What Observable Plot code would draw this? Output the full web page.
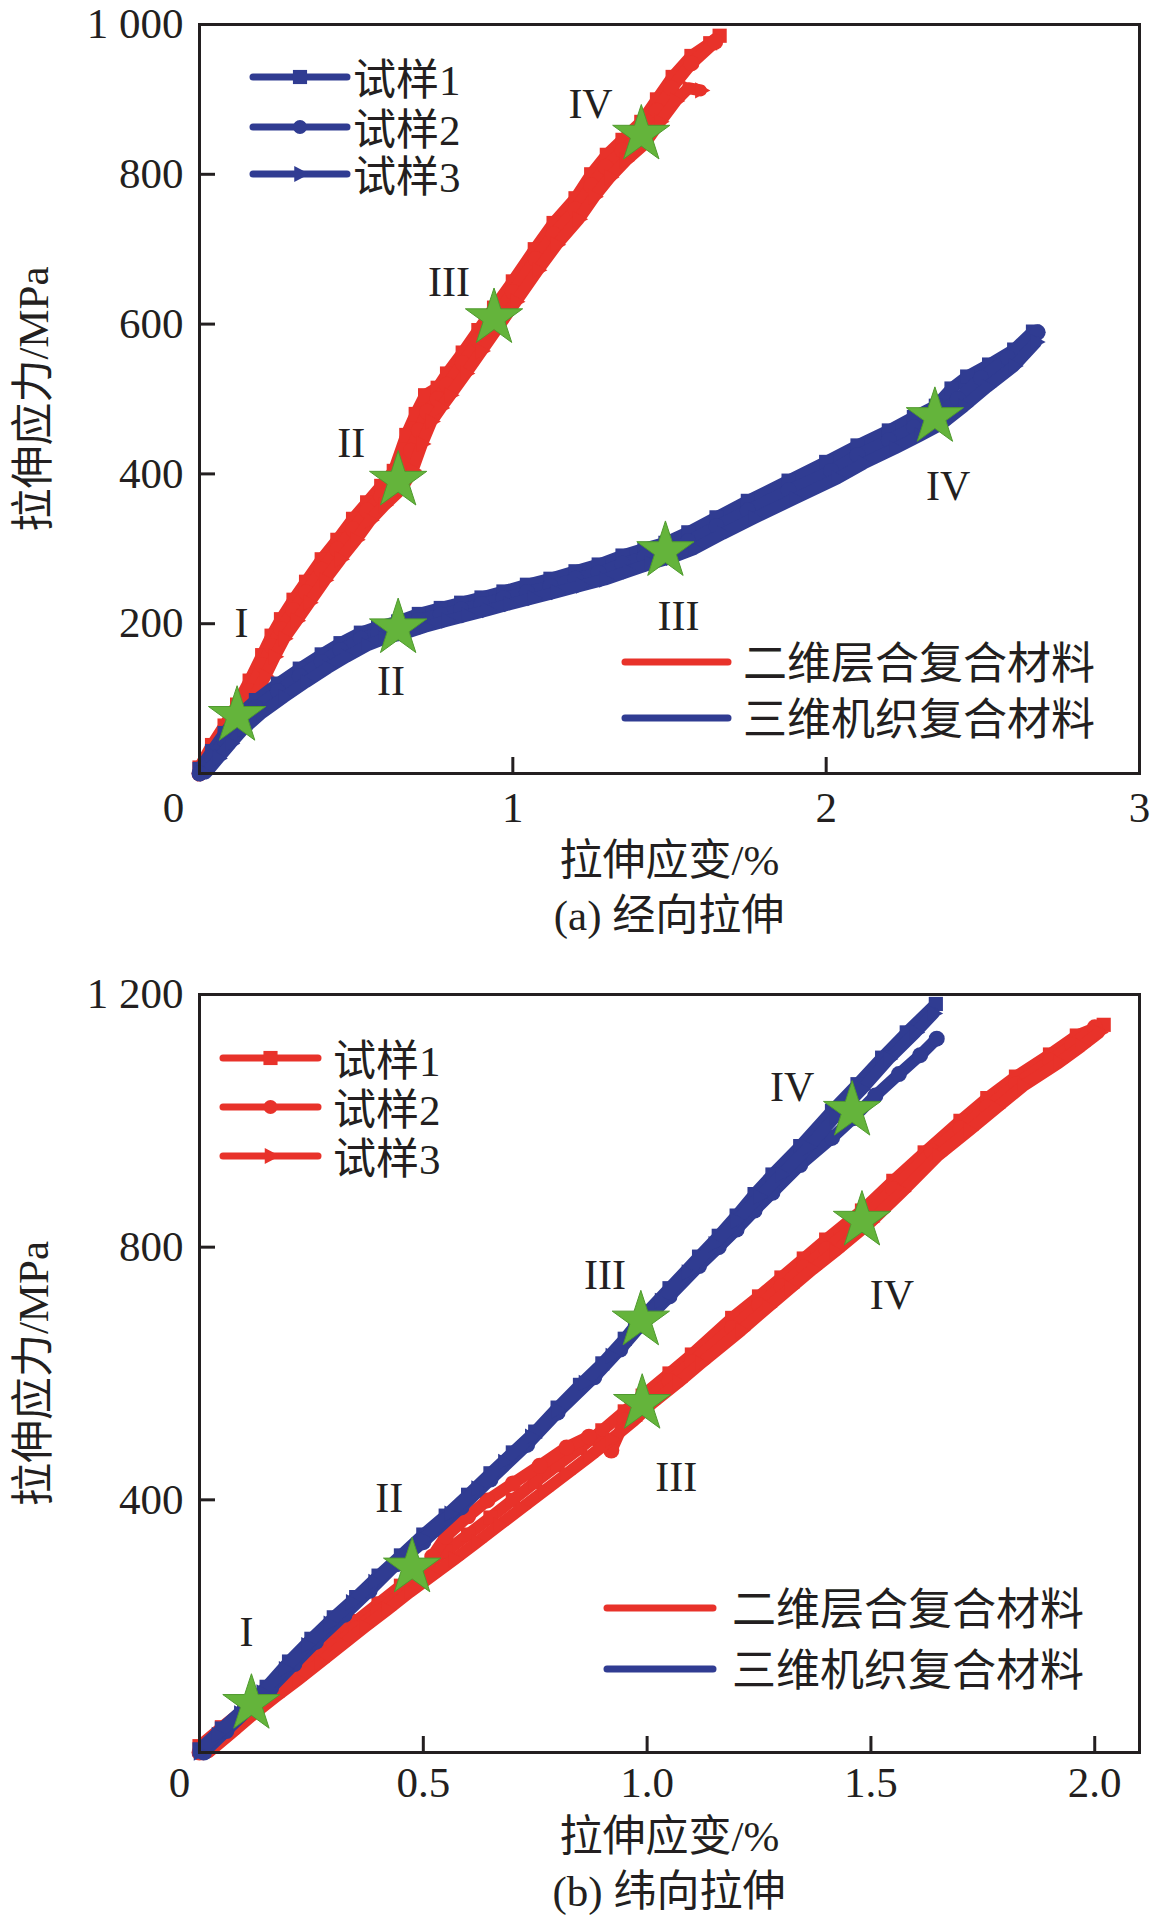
<!DOCTYPE html>
<html><head><meta charset="utf-8">
<script src="https://cdn.jsdelivr.net/npm/d3@7"></script>
<script src="https://cdn.jsdelivr.net/npm/@observablehq/plot@0.6"></script>
<style>
body{margin:0;background:#fff;}
#wrap{position:relative;width:1152px;height:1920px;font-family:"Liberation Serif","Noto Sans CJK SC",serif;color:#231f20;}
.panel{position:absolute;left:0;}
.cap{position:absolute;left:199px;width:940px;text-align:center;font-size:43px;line-height:50px;}
</style></head><body><div id="wrap"></div><script>
// ---------------- DATA ----------------
const yLabel = "拉伸应力/MPa";
const xLabel = "拉伸应变/%";
const captions = ["(a) 经向拉伸", "(b) 纬向拉伸"];
const specimenNames = ["试样1", "试样2", "试样3"];
const materialNames = ["二维层合复合材料", "三维机织复合材料"];

// (a) warp tension
const aXTicks = [1, 2, 3];
const aYTicks = [200, 400, 600, 800, 1000];
const aRed1 = [[0,8],[0.04,38],[0.08,64],[0.12,92],[0.16,124],[0.2,158],[0.23,184],[0.26,206],[0.3,232],[0.34,256],[0.39,286],[0.44,312],[0.49,340],[0.535,362],[0.58,384],[0.62,404],[0.66,452],[0.69,480],[0.72,505],[0.76,515],[0.79,534],[0.84,562],[0.89,592],[0.94,622],[1.0,657],[1.07,700],[1.13,735],[1.2,768],[1.25,800],[1.3,826],[1.35,846],[1.41,870],[1.46,900],[1.51,930],[1.57,958],[1.63,975],[1.66,985]];
const aRed2 = [[0,0],[0.04,28],[0.08,52],[0.12,78],[0.16,110],[0.2,145],[0.23,170],[0.26,193],[0.3,218],[0.34,242],[0.39,272],[0.44,299],[0.49,326],[0.535,351],[0.58,370],[0.634,391],[0.675,431],[0.7,458],[0.727,483],[0.76,500],[0.79,519],[0.84,548],[0.89,578],[0.94,608],[1.0,643],[1.073,687],[1.13,720],[1.2,753],[1.25,785],[1.296,810],[1.35,832],[1.41,853],[1.46,885],[1.506,915],[1.57,948],[1.646,977]];
const aRed3 = [[0.01,0],[0.05,20],[0.09,44],[0.13,68],[0.17,98],[0.21,130],[0.24,156],[0.27,180],[0.31,204],[0.35,228],[0.4,258],[0.45,286],[0.5,312],[0.545,338],[0.59,358],[0.645,380],[0.68,405],[0.71,440],[0.74,470],[0.77,488],[0.8,505],[0.85,534],[0.9,564],[0.95,594],[1.01,630],[1.08,672],[1.14,706],[1.21,740],[1.26,770],[1.31,796],[1.36,818],[1.42,840],[1.47,870],[1.52,898],[1.56,915],[1.6,912]];
const aBlue1 = [[0,6],[0.04,30],[0.08,54],[0.12,76],[0.18,98],[0.25,120],[0.32,140],[0.39,159],[0.45,174],[0.515,188],[0.57,196],[0.634,203],[0.7,213],[0.77,221],[0.835,228],[0.9,235],[0.97,243],[1.045,252],[1.12,260],[1.2,270],[1.274,279],[1.35,291],[1.42,300],[1.487,308],[1.56,322],[1.65,342],[1.75,364],[1.88,391],[2.0,416],[2.1,438],[2.2,458],[2.28,476],[2.35,491],[2.4,514],[2.45,530],[2.52,546],[2.6,566],[2.66,590]];
const aBlue2 = [[0,0],[0.04,22],[0.08,45],[0.12,66],[0.18,88],[0.25,110],[0.32,130],[0.39,149],[0.45,165],[0.515,180],[0.57,188],[0.634,195],[0.7,205],[0.77,212],[0.835,219],[0.9,226],[0.97,234],[1.045,242],[1.12,250],[1.2,260],[1.274,268],[1.35,280],[1.42,289],[1.487,297],[1.56,310],[1.65,330],[1.75,351],[1.88,378],[2.016,404],[2.1,425],[2.2,445],[2.28,462],[2.347,476],[2.42,500],[2.494,528],[2.58,555],[2.675,589]];
const aBlue3 = [[0.02,0],[0.06,20],[0.1,40],[0.14,59],[0.2,81],[0.27,102],[0.34,122],[0.41,141],[0.47,156],[0.535,171],[0.59,180],[0.654,187],[0.72,196],[0.79,204],[0.855,211],[0.92,218],[0.99,226],[1.065,234],[1.14,242],[1.22,251],[1.294,259],[1.37,270],[1.44,280],[1.507,288],[1.58,300],[1.67,320],[1.77,341],[1.9,367],[2.036,394],[2.12,414],[2.22,434],[2.3,451],[2.367,466],[2.44,490],[2.514,516],[2.6,544],[2.67,576]];
const aStars = [[0.12,77],[0.634,391],[0.94,608],[1.41,853],[0.634,194],[1.487,297],[2.347,476]];
const aStages = [["I",0.134,200],["II",0.484,440],["III",0.796,655],["IV",1.248,893],["II",0.611,123],["III",1.529,210],["IV",2.389,383]];

// (b) weft tension
const bXTicks = [0.5, 1.0, 1.5, 2.0];
const bYTicks = [400, 800, 1200];
const bRed1 = [[0,10],[0.05,40],[0.1,68],[0.15,96],[0.2,124],[0.25,152],[0.3,180],[0.35,208],[0.4,236],[0.45,264],[0.5,292],[0.55,318],[0.6,345],[0.65,372],[0.7,400],[0.75,428],[0.8,455],[0.85,482],[0.9,510],[0.95,540],[0.99,565],[1.05,600],[1.1,630],[1.19,688],[1.25,722],[1.3,752],[1.35,782],[1.4,812],[1.48,858],[1.55,905],[1.62,950],[1.7,1000],[1.76,1036],[1.824,1070],[1.9,1105],[1.96,1135],[2.02,1152]];
const bRed2 = [[0,0],[0.05,30],[0.1,58],[0.15,85],[0.2,112],[0.25,140],[0.3,168],[0.35,196],[0.4,223],[0.45,252],[0.5,282],[0.52,310],[0.55,342],[0.6,374],[0.643,399],[0.7,426],[0.76,454],[0.82,483],[0.87,500],[0.9,488],[0.92,478],[0.95,526],[0.989,552],[1.05,588],[1.1,618],[1.19,672],[1.25,708],[1.3,738],[1.35,768],[1.4,797],[1.48,842],[1.55,892],[1.636,952],[1.7,988],[1.76,1022],[1.824,1058],[1.9,1095],[1.95,1120],[2.0,1148]];
const bRed3 = [[0.02,0],[0.07,30],[0.12,60],[0.17,88],[0.22,115],[0.27,143],[0.32,171],[0.37,199],[0.42,226],[0.47,254],[0.52,280],[0.57,306],[0.62,333],[0.67,360],[0.72,387],[0.77,414],[0.82,441],[0.87,468],[0.92,496],[0.97,525],[1.01,552],[1.07,586],[1.12,616],[1.21,668],[1.27,705],[1.32,735],[1.37,765],[1.42,793],[1.5,840],[1.57,888],[1.65,945],[1.72,985],[1.78,1020],[1.84,1055],[1.92,1092],[1.97,1118],[2.01,1140]];
const bBlue1 = [[0,5],[0.05,38],[0.1,70],[0.15,104],[0.2,144],[0.25,180],[0.3,214],[0.35,246],[0.4,280],[0.45,312],[0.5,345],[0.55,375],[0.6,408],[0.65,442],[0.7,475],[0.75,508],[0.8,546],[0.85,582],[0.9,616],[0.95,655],[0.99,690],[1.05,735],[1.116,785],[1.16,818],[1.2,850],[1.24,884],[1.28,915],[1.342,960],[1.413,1016],[1.47,1058],[1.525,1100],[1.58,1140],[1.645,1185]];
const bBlue2 = [[0.01,0],[0.06,34],[0.116,72],[0.16,102],[0.212,140],[0.26,175],[0.324,218],[0.38,256],[0.44,298],[0.5,333],[0.585,388],[0.65,432],[0.732,487],[0.8,538],[0.882,594],[0.94,638],[0.986,676],[1.05,722],[1.116,770],[1.16,800],[1.2,828],[1.24,858],[1.28,886],[1.342,930],[1.413,973],[1.46,1004],[1.51,1040],[1.5625,1074],[1.61,1104],[1.647,1130]];
const bBlue3 = [[0,0],[0.04,28],[0.09,62],[0.14,95],[0.19,132],[0.24,170],[0.29,204],[0.34,238],[0.39,270],[0.45,305],[0.5,338],[0.56,378],[0.62,418],[0.68,460],[0.74,500],[0.8,542],[0.86,585],[0.92,628],[0.97,668],[1.03,715],[1.09,760],[1.15,805],[1.2,842],[1.25,880],[1.3,915],[1.36,958],[1.42,1006],[1.48,1050],[1.54,1098],[1.6,1140],[1.64,1170]];
const bStars = [[0.116,77],[0.475,293],[0.986,684],[1.458,1016],[0.989,552],[1.48,842]];
const bStages = [["I",0.105,190],["II",0.424,402],["III",0.906,755],["IV",1.324,1052],["III",1.065,435],["IV",1.547,723]];

// ---------------- STYLE ----------------
const RED = "#e8322a", BLUE = "#303c92", STAR = "#64b43b", INK = "#231f20";
const FONT = '"Liberation Serif","Noto Sans CJK SC",serif';
const FS = 43;
const triRight = {draw(ctx, size) {
  const r = Math.sqrt(size / 2.2);
  ctx.moveTo(r, 0); ctx.lineTo(-r * 0.6, r * 0.85); ctx.lineTo(-r * 0.6, -r * 0.85); ctx.closePath();
}};
const SYMBOLS = ["square", "circle", triRight];

function fmtThousands(d) {
  return d >= 1000 ? `${Math.floor(d / 1000)} ${String(d % 1000).padStart(3, "0")}` : String(d);
}

function chart(o) {
  const ml = 199, mr = 13;
  const fw = o.w - ml - mr, fh = o.h - o.mt - o.mb;
  const marks = [];
  for (const c of o.curves) {
    marks.push(Plot.line(c.data, {x: d => d[0], y: d => d[1], stroke: c.color, strokeWidth: 12, strokeLinejoin: "round", strokeLinecap: "round"}));
    marks.push(Plot.dot(c.data, {x: d => d[0], y: d => d[1], symbol: SYMBOLS[c.spec], r: 8, fill: c.color, stroke: "none"}));
  }
  marks.push(Plot.dot(o.stars, {x: d => d[0], y: d => d[1], symbol: "star", r: 18, fill: STAR, stroke: "#4f9a2e", strokeWidth: 1}));
  marks.push(Plot.text(o.stages, {x: d => d[1], y: d => d[2], text: d => d[0], fontSize: 42, fill: INK, fontFamily: "Liberation Serif"}));
  marks.push(Plot.ruleX(o.xTicks, {stroke: INK, strokeWidth: 3, insetTop: fh - 16}));
  marks.push(Plot.ruleY(o.yTicks, {stroke: INK, strokeWidth: 3, insetRight: fw - 16}));
  marks.push(Plot.frame({stroke: INK, strokeWidth: 3}));
  marks.push(Plot.text(o.xTicks, {x: d => d, frameAnchor: "bottom", dy: o.tickDy, text: o.xFmt, fontSize: FS, fill: INK, textAnchor: "middle", lineAnchor: "middle"}));
  marks.push(Plot.text(["0"], {frameAnchor: "bottom-left", dx: o.originDx, dy: o.tickDy, text: d => d, fontSize: FS, fill: INK, textAnchor: "middle", lineAnchor: "middle"}));
  marks.push(Plot.text(o.yTicks, {y: d => d, frameAnchor: "left", dx: -16, text: fmtThousands, fontSize: FS, fill: INK, textAnchor: "end", lineAnchor: "middle"}));
  marks.push(Plot.text([yLabel], {frameAnchor: "left", dx: -165, rotate: -90, text: d => d, fontSize: FS, fill: INK, textAnchor: "middle", lineAnchor: "middle"}));
  marks.push(Plot.text([xLabel], {frameAnchor: "bottom", dy: o.labelDy, text: d => d, fontSize: FS, fill: INK, textAnchor: "middle", lineAnchor: "middle"}));
  const svg = Plot.plot({
    width: o.w, height: o.h, marginLeft: ml, marginRight: mr, marginTop: o.mt, marginBottom: o.mb,
    x: {domain: o.xDomain, axis: null}, y: {domain: o.yDomain, axis: null},
    style: {fontFamily: FONT, background: "white", overflow: "visible"},
    marks
  });
  // legends (positioned relative to the frame)
  const g = d3.select(svg).append("g").attr("font-family", FONT).attr("fill", INK).attr("text-anchor", "start");
  const L = o.specLegend;
  specimenNames.forEach((name, i) => {
    const y = o.mt + L.y[i];
    g.append("line").attr("x1", ml + L.x0).attr("x2", ml + L.x1).attr("y1", y).attr("y2", y)
      .attr("stroke", L.color).attr("stroke-width", 7).attr("stroke-linecap", "round");
    const sym = d3.symbol().type(i === 0 ? d3.symbolSquare : i === 1 ? d3.symbolCircle : triRight).size(i === 1 ? 150 : 200);
    g.append("path").attr("d", sym()).attr("fill", L.color)
      .attr("transform", `translate(${ml + (L.x0 + L.x1) / 2},${y})`);
    g.append("text").attr("x", ml + L.tx).attr("y", y + 3).attr("dominant-baseline", "central")
      .attr("text-anchor", "start").attr("font-size", FS).text(name);
  });
  const M = o.matLegend;
  const fx1 = o.w - mr, fy1 = o.h - o.mb;
  materialNames.forEach((name, i) => {
    const y = fy1 + M.y[i];
    g.append("line").attr("x1", fx1 + M.x0).attr("x2", fx1 + M.x1).attr("y1", y).attr("y2", y)
      .attr("stroke", i === 0 ? RED : BLUE).attr("stroke-width", 7).attr("stroke-linecap", "round");
    g.append("text").attr("x", fx1 + M.tx).attr("y", y + 2).attr("dominant-baseline", "central")
      .attr("text-anchor", "start").attr("font-size", 44).text(name);
  });
  return svg;
}

const wrap = document.getElementById("wrap");
function place(el, top) { const d = document.createElement("div"); d.className = "panel"; d.style.top = top + "px"; d.appendChild(el); wrap.appendChild(d); }
function caption(text, top) { const d = document.createElement("div"); d.className = "cap"; d.style.top = top + "px"; d.textContent = text; wrap.appendChild(d); }

place(chart({
  w: 1152, h: 890, mt: 24, mb: 117, xDomain: [0, 3], yDomain: [0, 1000],
  xTicks: aXTicks, yTicks: aYTicks, xFmt: d => String(d), tickDy: 35, labelDy: 88, originDx: -26,
  curves: [
    {data: aRed1, color: RED, spec: 0}, {data: aRed2, color: RED, spec: 1}, {data: aRed3, color: RED, spec: 2},
    {data: aBlue1, color: BLUE, spec: 0}, {data: aBlue2, color: BLUE, spec: 1}, {data: aBlue3, color: BLUE, spec: 2}
  ],
  stars: aStars, stages: aStages,
  specLegend: {color: BLUE, x0: 54, x1: 148, tx: 154, y: [53, 103, 150]},
  matLegend: {x0: -514, x1: -411, tx: -396, y: [-111, -55]}
}), 0);
caption(captions[0], 891);

place(chart({
  w: 1152, h: 920, mt: 49, mb: 113, xDomain: [0, 2.1], yDomain: [0, 1200],
  xTicks: bXTicks, yTicks: bYTicks, xFmt: d3.format(".1f"), tickDy: 31, labelDy: 85, originDx: -20,
  curves: [
    {data: bRed1, color: RED, spec: 0}, {data: bRed2, color: RED, spec: 1}, {data: bRed3, color: RED, spec: 2},
    {data: bBlue1, color: BLUE, spec: 0}, {data: bBlue2, color: BLUE, spec: 1}, {data: bBlue3, color: BLUE, spec: 2}
  ],
  stars: bStars, stages: bStages,
  specLegend: {color: RED, x0: 24, x1: 119, tx: 134, y: [64, 113, 162]},
  matLegend: {x0: -532, x1: -426, tx: -407, y: [-144, -83]}
}), 945);
caption(captions[1], 1867);
</script></body></html>
